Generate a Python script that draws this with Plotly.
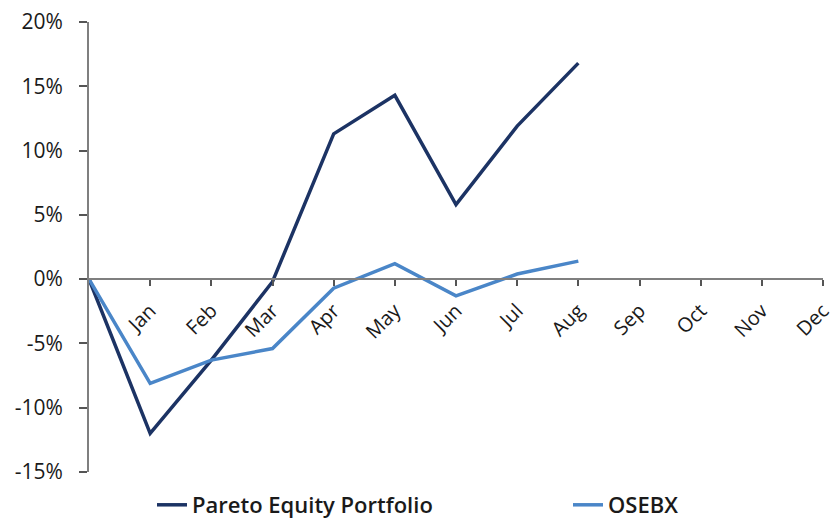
import plotly.graph_objects as go

months = ["Jan", "Feb", "Mar", "Apr", "May", "Jun", "Jul", "Aug", "Sep", "Oct", "Nov", "Dec"]
x_pos = list(range(0, 13))
pareto = [0.0, -12.0, -6.3, -0.2, 11.3, 14.3, 5.8, 11.9, 16.8]
osebx = [0.0, -8.1, -6.3, -5.4, -0.7, 1.2, -1.3, 0.4, 1.4]
y_ticks = [-15, -10, -5, 0, 5, 10, 15, 20]

fig = go.Figure()
fig.add_trace(go.Scatter(x=x_pos[:len(pareto)], y=pareto, mode="lines",
                         name="Pareto Equity Portfolio", legend="legend",
                         line=dict(color="#1C3364", width=3.5)))
fig.add_trace(go.Scatter(x=x_pos[:len(osebx)], y=osebx, mode="lines",
                         name="OSEBX", legend="legend2",
                         line=dict(color="#4A86C8", width=3.5)))

font = "'Open Sans', Lato, sans-serif"
leg_common = dict(orientation="h", xref="container", yref="container",
                  y=1 - 505 / 521, xanchor="left", yanchor="middle",
                  bgcolor="rgba(0,0,0,0)",
                  font=dict(size=22, color="#1a1a1a", weight=600))
fig.update_layout(
    width=833, height=521,
    margin=dict(l=89, r=10, t=22, b=49),
    paper_bgcolor="white", plot_bgcolor="white",
    font=dict(family=font, size=18, color="#1a1a1a"),
    showlegend=True,
    legend=dict(x=152 / 833, **leg_common),
    legend2=dict(x=568 / 833, **leg_common),
    xaxis=dict(range=[0, 12], tickvals=x_pos[1:], ticktext=months,
               tickangle=-45, showgrid=False, zeroline=False,
               showline=True, linecolor="#7f7f7f", linewidth=2,
               ticks="outside", ticklen=6, tickwidth=2, tickcolor="#555555",
               anchor="free", position=15 / 35, automargin=False,
               ticklabelstandoff=5, ticklabeloverflow="allow",
               tickfont=dict(size=20)),
    yaxis=dict(range=[-15, 20], tickvals=y_ticks,
               ticktext=[f"{v}%" for v in y_ticks],
               showgrid=False, zeroline=False, automargin=False,
               showline=True, linecolor="#7f7f7f", linewidth=2,
               ticks="outside", ticklen=8, tickwidth=2, tickcolor="#555555",
               ticklabelstandoff=12,
               tickfont=dict(size=21)),
)
fig.write_html("out.html", config={"displayModeBar": False},
               post_script="document.body.style.margin='0';")
